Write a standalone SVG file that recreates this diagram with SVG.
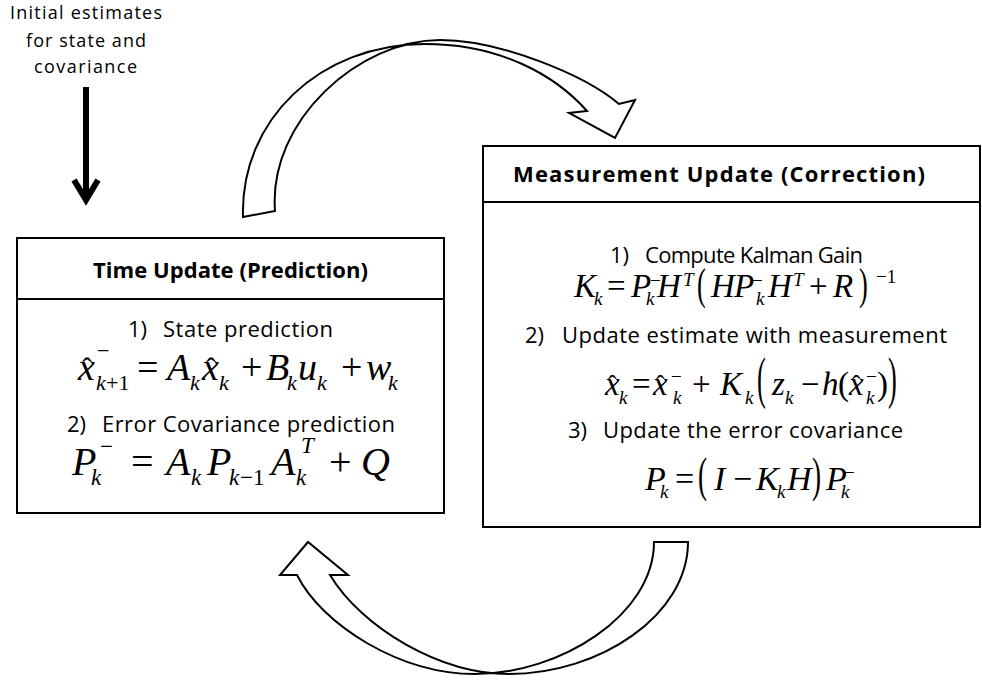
<svg xmlns="http://www.w3.org/2000/svg" width="982" height="684" viewBox="0 0 982 684">
  <style>
    .box { fill: #fff; stroke: #000; stroke-width: 2; }
    .band { fill: #fff; stroke: #000; stroke-width: 2; stroke-linejoin: miter; }
    .txt { font-family: "Open Sans", "Noto Sans", sans-serif; font-size: 22px; fill: #000; }
    .lbl { font-family: "Open Sans", "Noto Sans", sans-serif; font-size: 18px; fill: #000; }
    .ttl { font-family: "Open Sans", "Noto Sans", sans-serif; font-size: 22px; font-weight: bold; fill: #000; }
    .eq { font-family: "Liberation Serif", "Times New Roman", serif; fill: #000; }
    .mi { font-style: italic; }
    .mr { font-style: normal; }
    .paren { font-family: "Liberation Serif", "Times New Roman", serif; font-style: normal; fill: #000; }
  </style>

  <!-- Initial estimate label -->
  <g id="initial-estimates">
    <text class="lbl" x="10" y="19" textLength="152">Initial estimates</text>
    <text class="lbl" x="26" y="47" textLength="120">for state and</text>
    <text class="lbl" x="34" y="73" textLength="103">covariance</text>
  </g>

  <!-- Time update box -->
  <g id="time-update">
    <rect class="box" x="17" y="238" width="427" height="275"/>
    <line x1="17" y1="299" x2="444" y2="299" stroke="#000" stroke-width="2"/>
    <text class="ttl" x="93" y="278" textLength="275">Time Update (Prediction)</text>
    <text class="txt" x="128" y="337">1)</text>
    <text class="txt" x="163" y="337" textLength="170">State prediction</text>
    <text class="txt" x="67" y="432">2)</text>
    <text class="txt" x="102" y="432" textLength="293">Error Covariance prediction</text>

    <!-- x^-_{k+1} = A_k x_k + B_k u_k + w_k -->
    <text class="eq" font-size="38">
      <tspan class="mi" x="78" y="380">x</tspan>
      <tspan class="mr" x="82" y="378" font-size="30">ˆ</tspan>
      <tspan class="mr" x="97" y="358" font-size="22">−</tspan>
      <tspan class="mi" x="96" y="390" font-size="22">k</tspan>
      <tspan class="mr" x="106" y="390" font-size="22">+1</tspan>
      <tspan class="mr" x="137" y="380">=</tspan>
      <tspan class="mi" x="167" y="380">A</tspan>
      <tspan class="mi" x="190" y="390" font-size="22">k</tspan>
      <tspan class="mi" x="202" y="380">x</tspan>
      <tspan class="mr" x="206" y="378" font-size="30">ˆ</tspan>
      <tspan class="mi" x="219" y="390" font-size="22">k</tspan>
      <tspan class="mr" x="241" y="380">+</tspan>
      <tspan class="mi" x="266" y="380">B</tspan>
      <tspan class="mi" x="287" y="390" font-size="22">k</tspan>
      <tspan class="mi" x="298" y="380">u</tspan>
      <tspan class="mi" x="317" y="390" font-size="22">k</tspan>
      <tspan class="mr" x="341" y="380">+</tspan>
      <tspan class="mi" x="366" y="380">w</tspan>
      <tspan class="mi" x="388" y="390" font-size="22">k</tspan>
    </text>

    <!-- P^-_k = A_k P_{k-1} A^T_k + Q -->
    <text class="eq" font-size="40">
      <tspan class="mi" x="72" y="475">P</tspan>
      <tspan class="mr" x="100" y="454" font-size="23">−</tspan>
      <tspan class="mi" x="91" y="485" font-size="23">k</tspan>
      <tspan class="mr" x="131" y="475">=</tspan>
      <tspan class="mi" x="166" y="475">A</tspan>
      <tspan class="mi" x="191" y="485" font-size="23">k</tspan>
      <tspan class="mi" x="207" y="475">P</tspan>
      <tspan class="mi" x="229" y="485" font-size="23">k</tspan>
      <tspan class="mr" x="240" y="485" font-size="23">−1</tspan>
      <tspan class="mi" x="271" y="475">A</tspan>
      <tspan class="mi" x="301" y="453" font-size="23">T</tspan>
      <tspan class="mi" x="296" y="485" font-size="23">k</tspan>
      <tspan class="mr" x="329" y="475">+</tspan>
      <tspan class="mi" x="361" y="475">Q</tspan>
    </text>
  </g>

  <!-- Measurement update box -->
  <g id="measurement-update">
    <rect class="box" x="483" y="146" width="497" height="381"/>
    <line x1="483" y1="202" x2="980" y2="202" stroke="#000" stroke-width="2"/>
    <text class="ttl" x="513" y="182" textLength="412">Measurement Update (Correction)</text>
    <text class="txt" x="610" y="263">1)</text>
    <text class="txt" x="645" y="263" textLength="218">Compute Kalman Gain</text>
    <text class="txt" x="525" y="343">2)</text>
    <text class="txt" x="562" y="343" textLength="385">Update estimate with measurement</text>
    <text class="txt" x="568" y="438">3)</text>
    <text class="txt" x="603" y="438" textLength="300">Update the error covariance</text>

    <!-- K_k = P^-_k H^T (H P^-_k H^T + R)^-1 -->
    <text class="eq" font-size="33">
      <tspan class="mi" x="574" y="297">K</tspan>
      <tspan class="mi" x="594" y="305" font-size="19">k</tspan>
      <tspan class="mr" x="607" y="297">=</tspan>
      <tspan class="mi" x="631" y="297">P</tspan>
      <tspan class="mr" x="650" y="287" font-size="19">−</tspan>
      <tspan class="mi" x="646" y="305" font-size="19">k</tspan>
      <tspan class="mi" x="657" y="297">H</tspan>
      <tspan class="mi" x="683" y="286" font-size="19">T</tspan>
      <tspan class="mi" x="711" y="297">H</tspan>
      <tspan class="mi" x="734" y="297">P</tspan>
      <tspan class="mr" x="752" y="287" font-size="19">−</tspan>
      <tspan class="mi" x="756" y="305" font-size="19">k</tspan>
      <tspan class="mi" x="768" y="297">H</tspan>
      <tspan class="mi" x="793" y="286" font-size="19">T</tspan>
      <tspan class="mr" x="809" y="297">+</tspan>
      <tspan class="mi" x="833" y="297">R</tspan>
      <tspan class="mr" x="876" y="283" font-size="19">−1</tspan>
    </text>
    <text class="paren" transform="translate(697,299) scale(0.8,1.35)" font-size="33">(</text>
    <text class="paren" transform="translate(859,299) scale(0.8,1.35)" font-size="33">)</text>

    <!-- x_k = x^-_k + K_k (z_k - h(x^-_k)) -->
    <text class="eq" font-size="33">
      <tspan class="mi" x="605" y="395">x</tspan>
      <tspan class="mr" x="608" y="393" font-size="26">ˆ</tspan>
      <tspan class="mi" x="619" y="404" font-size="19">k</tspan>
      <tspan class="mr" x="632" y="395">=</tspan>
      <tspan class="mi" x="653" y="395">x</tspan>
      <tspan class="mr" x="656" y="393" font-size="26">ˆ</tspan>
      <tspan class="mr" x="671" y="383" font-size="19">−</tspan>
      <tspan class="mi" x="673" y="404" font-size="19">k</tspan>
      <tspan class="mr" x="692" y="395">+</tspan>
      <tspan class="mi" x="720" y="395">K</tspan>
      <tspan class="mi" x="745" y="404" font-size="19">k</tspan>
      <tspan class="mi" x="772" y="395">z</tspan>
      <tspan class="mi" x="785" y="404" font-size="19">k</tspan>
      <tspan class="mr" x="801" y="395">−</tspan>
      <tspan class="mi" x="822" y="395">h</tspan>
      <tspan class="mr" x="838" y="395">(</tspan>
      <tspan class="mi" x="849" y="395">x</tspan>
      <tspan class="mr" x="852" y="393" font-size="26">ˆ</tspan>
      <tspan class="mr" x="866" y="383" font-size="19">−</tspan>
      <tspan class="mi" x="866" y="404" font-size="19">k</tspan>
      <tspan class="mr" x="877" y="395">)</tspan>
    </text>
    <text class="paren" transform="translate(757,397) scale(0.8,1.7)" font-size="33">(</text>
    <text class="paren" transform="translate(888,397) scale(0.8,1.7)" font-size="33">)</text>

    <!-- P_k = (I - K_k H) P^-_k -->
    <text class="eq" font-size="34">
      <tspan class="mi" x="645" y="490">P</tspan>
      <tspan class="mi" x="660" y="498" font-size="19">k</tspan>
      <tspan class="mr" x="675" y="490">=</tspan>
      <tspan class="mi" x="714" y="490">I</tspan>
      <tspan class="mr" x="733" y="490">−</tspan>
      <tspan class="mi" x="756" y="490">K</tspan>
      <tspan class="mi" x="777" y="498" font-size="19">k</tspan>
      <tspan class="mi" x="787" y="490">H</tspan>
      <tspan class="mi" x="826" y="490">P</tspan>
      <tspan class="mr" x="844" y="479" font-size="19">−</tspan>
      <tspan class="mi" x="841" y="498" font-size="19">k</tspan>
    </text>
    <text class="paren" transform="translate(698,491) scale(0.8,1.4)" font-size="34">(</text>
    <text class="paren" transform="translate(812,491) scale(0.8,1.4)" font-size="34">)</text>
  </g>

  <!-- Connectors -->
  <g id="connectors">
    <!-- initial estimate feeding the time update -->
    <line x1="86" y1="87" x2="86" y2="196" stroke="#000" stroke-width="6"/>
    <polyline points="74,180 86,200 98,180" fill="none" stroke="#000" stroke-width="6" stroke-linejoin="miter" stroke-miterlimit="10"/>

    <!-- prediction to correction: twisted band over the top -->
    <path class="band" d="M243,217 C240,120 320,44 425,44 C500,44 555,75 587,111 L569,113 L615,138 L635,100 L619,104 C585,75 500,40 440,40 C360,40 268,120 275,211 Z"/>

    <!-- correction back to prediction: twisted band underneath -->
    <path class="band" d="M654,542 L688,542 C688,615 600,674 509,674 C440,674 362,628 330,575 L348,575 L308,542 L280,575 L297,575 C322,625 400,674 475,674 C560,674 654,615 654,542 Z"/>
  </g>
</svg>
